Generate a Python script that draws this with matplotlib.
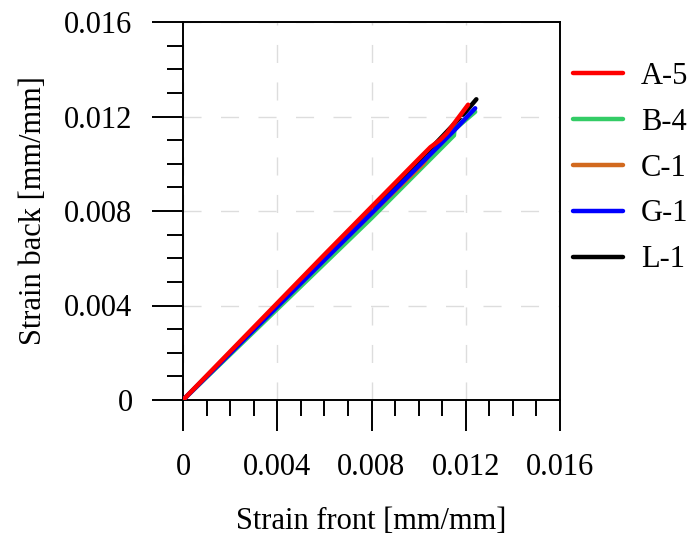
import matplotlib.pyplot as plt
from matplotlib.ticker import MultipleLocator, FixedFormatter, FixedLocator

plt.rcParams['font.family'] = ['Liberation Serif', 'DejaVu Serif']

# Donnees (deformation face avant / face arriere)
a5_front = [0, 0.002, 0.006, 0.0100, 0.0105, 0.0109, 0.0112, 0.0121]
a5_back = [0, 0.00205, 0.00615, 0.0102, 0.0107, 0.0110, 0.0113, 0.0125]
b4_front = [0, 0.004, 0.008, 0.0110, 0.0115, 0.01152, 0.0124]
b4_back = [0, 0.00385, 0.0077, 0.0107, 0.0112, 0.01145, 0.0122]
c1_front = [0, 0.004, 0.008, 0.0102, 0.0104]
c1_back = [0, 0.0040, 0.0079, 0.0100, 0.0103]
g1_front = [0, 0.004, 0.008, 0.0115, 0.0124]
g1_back = [0, 0.00395, 0.0079, 0.0114, 0.01235]
l1_front = [0, 0.004, 0.008, 0.0120, 0.01245]
l1_back = [0, 0.0040, 0.0080, 0.0122, 0.01273]

series = [
    ('A-5', a5_front, a5_back, '#ff0000', 6),
    ('B-4', b4_front, b4_back, '#33cc66', 2),
    ('C-1', c1_front, c1_back, '#d2691e', 3),
    ('G-1', g1_front, g1_back, '#0000ff', 4),
    ('L-1', l1_front, l1_back, '#000000', 1),
]

fig = plt.figure(figsize=(6.92, 5.41), dpi=100)
ax = fig.add_axes([183 / 692, 141 / 541, 377 / 692, 378 / 541])

for name, xs, ys, col, z in series:
    ax.plot(xs, ys, color=col, lw=3.2, label=name, zorder=z, solid_capstyle='round')

ax.set_xlim(0, 0.016)
ax.set_ylim(0, 0.016)
ticks = [0, 0.004, 0.008, 0.012, 0.016]
labels = ['0', '0.004', '0.008', '0.012', '0.016']
ax.xaxis.set_major_locator(FixedLocator(ticks))
ax.yaxis.set_major_locator(FixedLocator(ticks))
ax.xaxis.set_major_formatter(FixedFormatter(labels))
ax.yaxis.set_major_formatter(FixedFormatter(labels))
ax.xaxis.set_minor_locator(MultipleLocator(0.001))
ax.yaxis.set_minor_locator(MultipleLocator(0.001))
ax.tick_params(which='major', direction='out', length=22.3, width=1.4, labelsize=22)
ax.tick_params(axis='x', which='major', pad=16)
ax.tick_params(axis='y', which='major', pad=14)
ax.tick_params(which='minor', direction='out', length=11.5, width=1.4)
ax.grid(True, which='major', color='#dddddd', linestyle=(0, (13, 14)), lw=1)
for s in ax.spines.values():
    s.set_linewidth(1.4)

ax.set_xlabel('Strain front [mm/mm]', fontsize=22, labelpad=18)
ax.set_ylabel('Strain back [mm/mm]', fontsize=22, labelpad=12)

ax.legend(loc='upper left', bbox_to_anchor=(573 / 692, 1 - 62 / 541), bbox_transform=fig.transFigure,
          frameon=False, fontsize=22, borderaxespad=0, borderpad=0,
          handlelength=1.63, labelspacing=0.55, handletextpad=0.6)

plt.savefig('out.png', dpi=100)
